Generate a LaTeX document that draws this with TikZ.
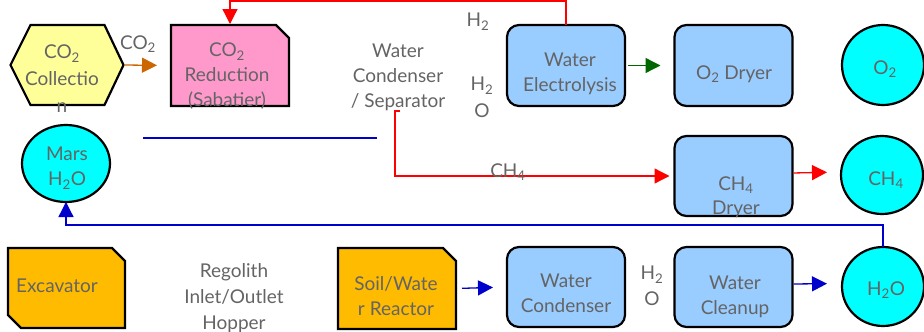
\documentclass[tikz,border=0pt]{standalone}
\usepackage{fontspec}
\setmainfont{Lato}
\usetikzlibrary{arrows.meta,calc,shapes.geometric}
\definecolor{txtgray}{HTML}{646464}
\definecolor{yel}{HTML}{FFFF99}
\definecolor{pinkf}{HTML}{FF99CC}
\definecolor{bluef}{HTML}{99CCFF}
\definecolor{cyanf}{HTML}{00FFFF}
\definecolor{orf}{HTML}{FFBB00}
\definecolor{orarrow}{HTML}{CC6600}
\definecolor{grarrow}{HTML}{006600}
\definecolor{redarrow}{HTML}{FF0000}
\definecolor{bluearrow}{HTML}{0000CC}
\tikzset{
  shapebox/.style={rectangle,draw=none,inner sep=0pt,outer sep=0pt,minimum width=118pt,minimum height=81pt},
  outline/.style={draw=black,line width=2.2pt,line join=miter},
  procbox/.style={rectangle,rounded corners=12pt,draw=black,line width=2.2pt,fill=bluef,inner sep=0pt,outer sep=0pt,minimum width=118pt,minimum height=81pt},
  store/.style={ellipse,draw=black,line width=2.2pt,fill=cyanf,inner sep=0pt,outer sep=0pt,minimum width=82pt,minimum height=80pt},
  lbl/.style={text=txtgray,font=\fontsize{19}{25}\selectfont,align=center,inner sep=0pt},
  flow/.style={line width=1.3pt,-{Triangle[length=15pt,width=15pt]}},
  plain/.style={line width=1.3pt},
}
\newcommand{\sbs}[1]{\textsubscript{#1}}
\begin{document}
\begin{tikzpicture}[x=1pt,y=-1pt]
\useasboundingbox (0,0) rectangle (924,332);
% shape nodes
\node[shapebox,minimum width=113pt,minimum height=80pt] (col) at (67,65) {};
\draw[outline,fill=yel] (col.west) -- ([xshift=20pt]col.north west) -- ([xshift=-19pt]col.north east) -- (col.east) -- ([xshift=-19pt]col.south east) -- ([xshift=20pt]col.south west) -- cycle;
\node[shapebox] (red) at (230,65.5) {};
\draw[outline,fill=pinkf] (red.north west) -- ([xshift=-13pt]red.north east) -- ([yshift=-13pt]red.north east) -- (red.south east) -- (red.south west) -- cycle;
\node[procbox] (elec) at (566,65.5) {};
\node[procbox] (o2d) at (733.5,65.5) {};
\node[store] (o2c) at (883,65) {};
\node[store,minimum width=88pt,minimum height=77pt] (mars) at (66,163.5) {};
\node[procbox,minimum height=80pt] (ch4d) at (733.5,176) {};
\node[store,minimum height=78pt] (ch4c) at (882,175) {};
\node[shapebox,minimum width=117pt,minimum height=80pt] (exc) at (66.5,288) {};
\draw[outline,fill=orf] (exc.north west) -- ([xshift=-13pt]exc.north east) -- ([yshift=-13pt]exc.north east) -- (exc.south east) -- ([xshift=13pt]exc.south west) -- ([yshift=13pt]exc.south west) -- cycle;
\node[shapebox] (soil) at (397,288.5) {};
\draw[outline,fill=orf] (soil.north west) -- ([xshift=-13pt]soil.north east) -- ([yshift=-13pt]soil.north east) -- (soil.south east) -- (soil.south west) -- cycle;
\node[procbox,minimum height=80pt] (wcond) at (566,287) {};
\node[procbox,minimum height=80pt] (clean) at (733.5,287) {};
\node[store,minimum height=79pt] (h2oc) at (883,286.5) {};
% coordinates for free ends
\coordinate (topy) at (400,1);
\coordinate (sepout) at (400,111);
\coordinate (bl1) at (143,138);
\coordinate (bl2) at (377,138);
% connectors
\draw[flow,orarrow,shorten <=1pt,shorten >=14pt] (col.east) -- (red.west);
\draw[flow,grarrow,shorten <=3pt,shorten >=14pt] (elec.east) -- (o2d.west);
\draw[flow,redarrow,shorten >=1pt] (elec.north) |- (topy) -| (red.north);
\draw[flow,redarrow,shorten >=5pt] (sepout) -- ++(-5,0) |- (ch4d.west);
\draw[flow,redarrow,shorten <=1pt,shorten >=14pt] ([yshift=3pt]ch4d.east) -- ([yshift=3pt]ch4c.west);
\draw[flow,bluearrow,shorten <=6pt,shorten >=14pt] (soil.east) -- (wcond.west);
\draw[flow,bluearrow,shorten <=1pt,shorten >=15pt] ([yshift=3pt]clean.east) -- ([yshift=3pt]h2oc.west);
\draw[flow,bluearrow,shorten >=0pt] (h2oc.north) -- ++(0,-22) -| (mars.south);
\draw[plain,bluearrow] (bl1) -- (bl2);
% labels
\node[lbl,font=\fontsize{19}{27}\selectfont] (tcol) at (62,79) {CO\sbs{2}\\Collectio\\n};
\node[lbl,anchor=base] (tco2) at (138,49) {CO\sbs{2}};
\node[lbl] (tred) at (227,76.5) {CO\sbs{2}\\Reduction\\(Sabatier)};
\node[lbl] (tsep) at (398,77) {Water\\Condenser\\/ Separator};
\node[lbl,anchor=base] (th2a) at (478,27) {H\sbs{2}};
\node[lbl,font=\fontsize{19}{27}\selectfont] (th2ob) at (482,97.5) {H\sbs{2}\\O};
\node[lbl] (telec) at (570,74) {Water\\Electrolysis};
\node[lbl,anchor=base] (to2d) at (734,79) {O\sbs{2} Dryer};
\node[lbl,anchor=base] (to2c) at (885,74) {O\sbs{2}};
\node[lbl,font=\fontsize{19}{24}\selectfont] (tch4d) at (736,197) {CH\sbs{4}\\Dryer};
\node[lbl,anchor=base] (tch4c) at (886,185) {CH\sbs{4}};
\node[lbl,anchor=base] (tch4) at (508,177) {CH\sbs{4}};
\node[lbl,anchor=base] (texc) at (57,292) {Excavator};
\node[lbl,font=\fontsize{19}{26}\selectfont] (treg) at (234,298) {Regolith\\Inlet/Outlet\\Hopper};
\node[lbl] (tsoil) at (396,296.5) {Soil/Wate\\r Reactor};
\node[lbl] (twcond) at (566,293.5) {Water\\Condenser};
\node[lbl,font=\fontsize{19}{26}\selectfont] (th2oc) at (652,286) {H\sbs{2}\\O};
\node[lbl] (tclean) at (735,297) {Water\\Cleanup};
\node[lbl,anchor=base] (th2o) at (886,295) {H\sbs{2}O};
\node[lbl] (tmars) at (67,168) {Mars\\H\sbs{2}O};
\end{tikzpicture}
\end{document}
